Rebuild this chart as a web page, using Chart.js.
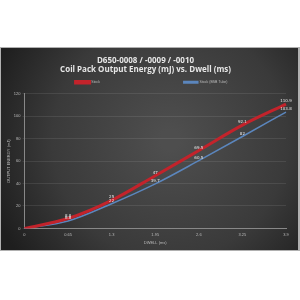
<!DOCTYPE html>
<html><head><meta charset="utf-8">
<script src="https://cdn.jsdelivr.net/npm/chart.js@4"></script>
<style>html,body{margin:0;padding:0;background:#fff}#wrap{width:300px;height:300px}</style>
</head><body><div id="wrap"><canvas id="c" width="300" height="300"></canvas></div>
<script>
const dwell = ['0','0.65','1.3','1.95','2.6','3.25','3.9'];
const stock = [0, 8.8, 25, 47, 69.5, 92.1, 110.9];
const stockTube = [0, 6.6, 22, 39.7, 60.5, 82, 103.8];
const yTicks = [0, 20, 40, 60, 80, 100, 120];

const panel = {
  id: 'panel',
  afterLayout(chart) {
    if (chart.legend) { chart.legend.left += 6; chart.legend.right += 6; }
  },
  beforeDraw(chart) {
    const ctx = chart.ctx;
    ctx.save();
    ctx.fillStyle = '#fff';
    ctx.fillRect(0, 0, 300, 300);
    const g = ctx.createRadialGradient(170, 140, 10, 170, 140, 190);
    g.addColorStop(0, '#4e4e4e');
    g.addColorStop(0.6, '#3a3a3a');
    g.addColorStop(1, '#1e1e1e');
    ctx.fillStyle = '#b0b0b0';
    ctx.fillRect(0, 47, 300, 204);
    ctx.fillStyle = g;
    ctx.fillRect(1, 48, 297, 202);
    ctx.restore();
  }
};
const labels = {
  id: 'ptlabels',
  afterDatasetsDraw(chart) {
    const ctx = chart.ctx;
    ctx.save();
    ctx.font = '4px "DejaVu Sans"';
    ctx.fillStyle = '#e8e8e8';
    ctx.textAlign = 'center';
    ctx.textBaseline = 'bottom';
    chart.data.datasets.forEach((ds, i) => {
      chart.getDatasetMeta(i).data.forEach((p, j) => {
        if (j === 0) return;
        ctx.fillText(String(ds.data[j]), p.x, p.y - 1);
      });
    });
    ctx.restore();
  }
};
new Chart(document.getElementById('c'), {
  type: 'line',
  data: {
    labels: dwell,
    datasets: [
      {label: 'Stock', data: stock, borderColor: '#c3232b', backgroundColor: '#c3232b', borderWidth: 3, pointRadius: 0, cubicInterpolationMode: 'monotone'},
      {label: 'Stock (BSB Tube)', data: stockTube, borderColor: '#5b86bd', backgroundColor: '#5b86bd', borderWidth: 1.5, pointRadius: 0, cubicInterpolationMode: 'monotone'}
    ]
  },
  options: {
    responsive: false, animation: false,
    layout: {padding: {top: 56, left: 5, right: 14, bottom: 54}},
    plugins: {
      title: {display: true, text: ['D650-0008 / -0009 / -0010', 'Coil Pack Output Energy (mJ) vs. Dwell (ms)'], color: '#e6e6e6', font: {family: 'Open Sans', size: 8, weight: 'bold', lineHeight: 1.15}, padding: {top: 0, bottom: 2}},
      legend: {display: true, labels: {color: '#bbb', font: {size: 3.5}, boxWidth: 14, boxHeight: 1.5, padding: 4,
        generateLabels: (chart) => Chart.defaults.plugins.legend.labels.generateLabels(chart).map((it, i) => {
          if (i === 0) it.text = it.text + ' '.repeat(82);
          return it;
        })}},
      tooltip: {enabled: false}
    },
    scales: {
      x: {
        offset: false,
        grid: {display: false, drawTicks: true, color: '#888', tickLength: 2},
        border: {color: '#888'},
        ticks: {color: '#bbb', font: {size: 4}, maxRotation: 0, padding: 2},
        title: {display: true, text: 'DWELL (ms)', color: '#bbb', font: {size: 4}, padding: 1}
      },
      y: {
        min: 0, max: 120,
        afterBuildTicks: (s) => { s.ticks = yTicks.map(v => ({value: v})); },
        grid: {color: 'rgba(255,255,255,0.09)', tickLength: 2},
        border: {color: '#888'},
        ticks: {color: '#bbb', font: {size: 4}, padding: 2},
        title: {display: true, text: 'OUTPUT ENERGY (mJ)', color: '#bbb', font: {size: 4}, padding: 1}
      }
    }
  },
  plugins: [panel, labels]
});
</script></body></html>
